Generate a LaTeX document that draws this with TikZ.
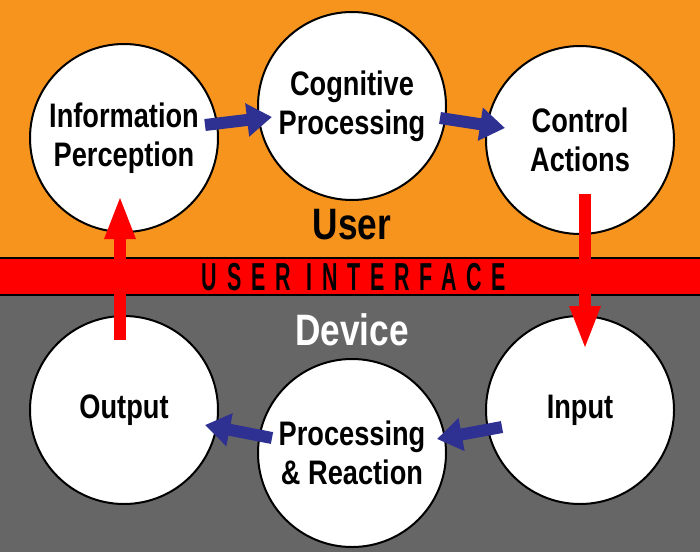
\documentclass[tikz,border=0pt]{standalone}
\usepackage{fontspec}
\setmainfont{Liberation Sans}
\newfontfamily\condfont[FakeStretch=0.8]{Liberation Sans}
\newfontfamily\uifont[FakeStretch=0.55,LetterSpace=25]{Liberation Sans}
\usepackage{xcolor}
\definecolor{userorange}{RGB}{247,148,29}
\definecolor{uired}{RGB}{255,0,0}
\definecolor{devgray}{RGB}{102,102,102}
\definecolor{flowblue}{RGB}{46,49,146}
\usepackage{tikz}
\usetikzlibrary{arrows.meta,calc}
\tikzset{
    stage/.style    = {circle, draw=black, fill=white, line width=2pt,
                       minimum size=188pt, inner sep=0pt, align=center,
                       font=\condfont\bfseries\fontsize{34}{39}\selectfont},
    zonelabel/.style = {font=\condfont\bfseries\fontsize{44}{44}\selectfont},
    flowArr/.style  = {-{Triangle[length=25pt,width=32pt]}, line width=12pt,
                       draw=flowblue},
    uiArr/.style    = {-{Triangle[length=44pt,width=28pt]}, line width=12pt,
                       draw=uired}
}

\begin{document}
\begin{tikzpicture}[x=1pt, y=-1pt]

\useasboundingbox (0,0) rectangle (700,552);

% ===== Zones =====
\fill[userorange] (0,0) rectangle (700,258);
\fill[devgray] (0,295) rectangle (700,552);
\fill[uired] (0,258) rectangle (700,295);
\draw[line width=2pt] (0,258) -- (700,258);
\draw[line width=2pt] (0,295) -- (700,295);

\node[zonelabel] (user) at (352,225) {User};
\node[zonelabel, text=white] (device) at (352,330) {Device};
\node[font=\uifont\bfseries\fontsize{39}{39}\selectfont] (ui) at (354,277)
   {USER INTERFACE};

% ===== User side =====
\node[stage] (info) at (124,138) {Information\\Perception};
\node[stage] (cogproc) at (352,106) {Cognitive\\Processing};
\node[stage] (ctrl) at (580,140) {Control\\Actions};

% ===== Device side =====
\node[stage] (output) at (124,410) {Output};
\node[stage] (procreact) at (352,453) {Processing\\\& Reaction};
\node[stage] (input) at (580,410) {Input};

% ===== Flow arrows =====
\draw[flowArr] ($(info)+(81,-13)$) -- ($(cogproc)+(-80,11)$);
\draw[flowArr] ($(cogproc)+(88,12)$) -- ($(ctrl)+(-75,-12)$);
\draw[flowArr] ($(input)+(-78,17)$) -- ($(procreact)+(85,-14)$);
\draw[flowArr] ($(procreact)+(-80,-15)$) -- ($(output)+(81,15)$);

% crossing the user interface
\draw[uiArr] ($(ctrl)+(5,54)$) -- ($(input)+(5,-60)$);
\draw[uiArr] ($(output)+(-4,-70)$) -- ($(info)+(-4,57)$);

\end{tikzpicture}
\end{document}
